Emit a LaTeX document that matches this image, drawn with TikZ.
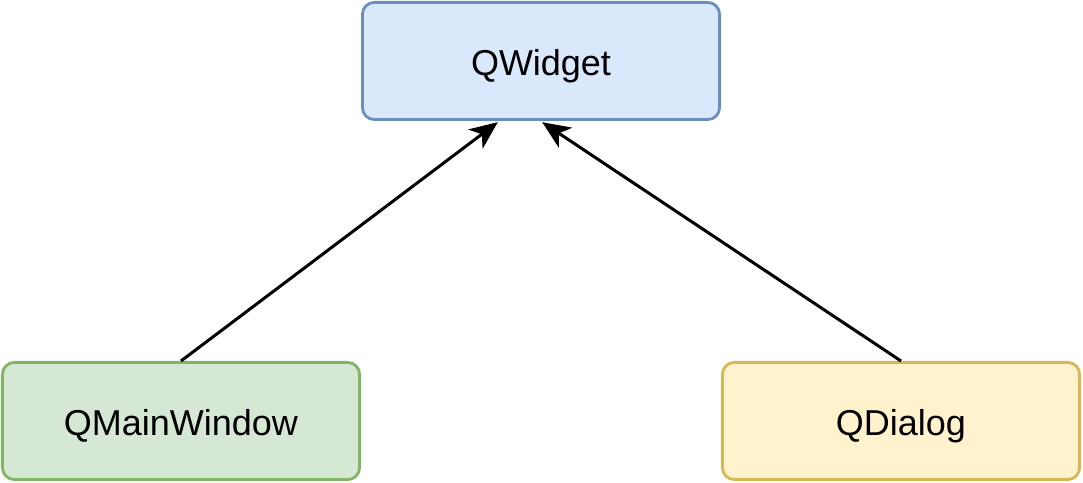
\documentclass[tikz,border=0pt]{standalone}
\usepackage{fontspec}
\setmainfont{Liberation Sans}
\usetikzlibrary{arrows.meta}

\definecolor{widgetfill}{HTML}{DAE8FC}
\definecolor{widgetdraw}{HTML}{6C8EBF}
\definecolor{mainfill}{HTML}{D5E8D4}
\definecolor{maindraw}{HTML}{82B366}
\definecolor{dialogfill}{HTML}{FFF2CC}
\definecolor{dialogdraw}{HTML}{D6B656}

\tikzset{
  classbox/.style={rectangle,rounded corners=0.3cm,line width=0.07cm,
    minimum width=8.93cm,minimum height=2.93cm,text height=0.74cm,text depth=0cm,
    font=\fontsize{25.6}{30}\selectfont},
  inherit/.style={line width=0.075cm,-{Stealth[length=0.7cm,width=0.6cm,inset=0.2cm]}}
}

\begin{document}
\begin{tikzpicture}
\useasboundingbox (0,0) rectangle (27.075,12.075);
\node[classbox,fill=widgetfill,draw=widgetdraw] (widget) at (13.525,10.55) {QWidget};
\node[classbox,fill=mainfill,draw=maindraw] (mainwin) at (4.525,1.55) {QMainWindow};
\node[classbox,fill=dialogfill,draw=dialogdraw] (dialog) at (22.525,1.55) {QDialog};
\draw[inherit] (mainwin.north) -- ([xshift=-1.08cm,yshift=-0.03cm]widget.south);
\draw[inherit] (dialog.north) -- ([xshift=0.03cm,yshift=-0.03cm]widget.south);
\end{tikzpicture}
\end{document}
